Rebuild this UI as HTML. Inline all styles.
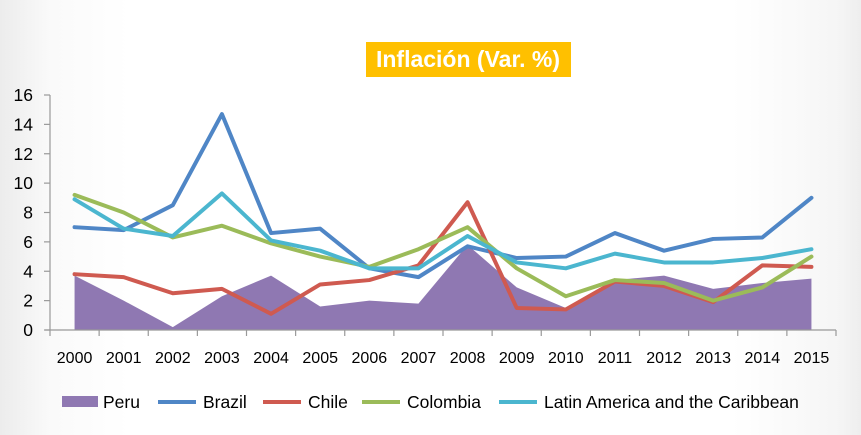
<!DOCTYPE html>
<html><head><meta charset="utf-8"><style>
body{margin:0;width:861px;height:435px;overflow:hidden;font-family:"Liberation Sans",sans-serif;}
#bg{position:absolute;left:0;top:0;width:861px;height:435px;background:linear-gradient(to right,#ececec 0%,#fafafa 6%,#fff 15%,#fff 85%,#f6f6f6 97%,#eeeeee 100%);}
</style></head><body>
<div id="bg"></div>
<svg id="c" width="861" height="435" style="position:absolute;left:0;top:0"></svg>
<script>
const years=["2000","2001","2002","2003","2004","2005","2006","2007","2008","2009","2010","2011","2012","2013","2014","2015"];
const peru=[3.7,2.0,0.2,2.3,3.7,1.6,2.0,1.8,5.8,2.9,1.5,3.4,3.7,2.8,3.2,3.5];
const brazil=[7.0,6.8,8.5,14.7,6.6,6.9,4.2,3.6,5.7,4.9,5.0,6.6,5.4,6.2,6.3,9.0];
const chile=[3.8,3.6,2.5,2.8,1.1,3.1,3.4,4.4,8.7,1.5,1.4,3.3,3.0,1.9,4.4,4.3];
const colombia=[9.2,8.0,6.3,7.1,5.9,5.0,4.3,5.5,7.0,4.2,2.3,3.4,3.2,2.0,2.9,5.0];
const lac=[8.9,6.9,6.4,9.3,6.1,5.4,4.2,4.2,6.4,4.6,4.2,5.2,4.6,4.6,4.9,5.5];
const yTicks=[0,2,4,6,8,10,12,14,16];
const NS="http://www.w3.org/2000/svg";
const svg=document.getElementById('c');
const x0=50,x1=836,y0=330,y1=95,step=(x1-x0)/years.length;
const X=i=>x0+step*(i+0.5);
const Y=v=>y0-(v/16)*(y0-y1);
function mk(t,a){const e=document.createElementNS(NS,t);for(const k in a)e.setAttribute(k,a[k]);svg.appendChild(e);return e;}
let tb=mk('rect',{x:366,y:42,width:205,height:35,fill:'#FFC000'});


let tt=mk('text',{x:468,y:67,'text-anchor':'middle','font-size':23,'font-weight':'bold',fill:'#fff'});
tt.textContent='Inflación (Var. %)';


let d='M'+X(0)+','+y0;peru.forEach((v,i)=>d+=' L'+X(i)+','+Y(v));d+=' L'+X(peru.length-1)+','+y0+'Z';
let ar=mk('path',{d:d,fill:'#8F78B2'});


let ya=mk('line',{x1:x0,y1:y1,x2:x0,y2:y0,stroke:'#999','stroke-width':1.2});


let xa=mk('line',{x1:x0-5,y1:y0,x2:x1,y2:y0,stroke:'#999','stroke-width':1.2});


yTicks.forEach(v=>{
 mk('line',{x1:x0-6,y1:Y(v),x2:x0,y2:Y(v),stroke:'#999','stroke-width':1.2});
 let t=mk('text',{x:33,y:Y(v)+6,'text-anchor':'end','font-size':17.5,fill:'#000'});t.textContent=v;
 
 
});
for(let i=0;i<=years.length;i++)mk('line',{x1:x0+step*i,y1:y0,x2:x0+step*i,y2:y0+6,stroke:'#999','stroke-width':1.2});
years.forEach((yr,i)=>{let t=mk('text',{x:X(i),y:363,'text-anchor':'middle','font-size':16,fill:'#000'});t.textContent=yr;
 
 });
const series=[[brazil,'#4F86C6','brazil-line'],[chile,'#CF5A50','chile-line'],[colombia,'#9BBB59','colombia-line'],[lac,'#4BB6CF','lac-line']];
series.forEach(([arr,col,name])=>{
 let p=mk('polyline',{points:arr.map((v,i)=>X(i)+','+Y(v)).join(' '),fill:'none',stroke:col,'stroke-width':4,'stroke-linejoin':'round','stroke-linecap':'round'});
 
 
});
const legend=[['Peru','#8F78B2',62,true],['Brazil','#4F86C6',158,false],['Chile','#CF5A50',263,false],['Colombia','#9BBB59',362,false],['Latin America and the Caribbean','#4BB6CF',499,false]];
legend.forEach(([lab,col,lx,area])=>{
 if(area)mk('rect',{x:lx,y:396,width:36,height:11,fill:col});
 else mk('line',{x1:lx,y1:402,x2:lx+38,y2:402,stroke:col,'stroke-width':4});
 let t=mk('text',{x:lx+(area?41:45),y:408,'font-size':17.5,fill:'#000'});t.textContent=lab;
 
 
});
</script>
</body></html>
